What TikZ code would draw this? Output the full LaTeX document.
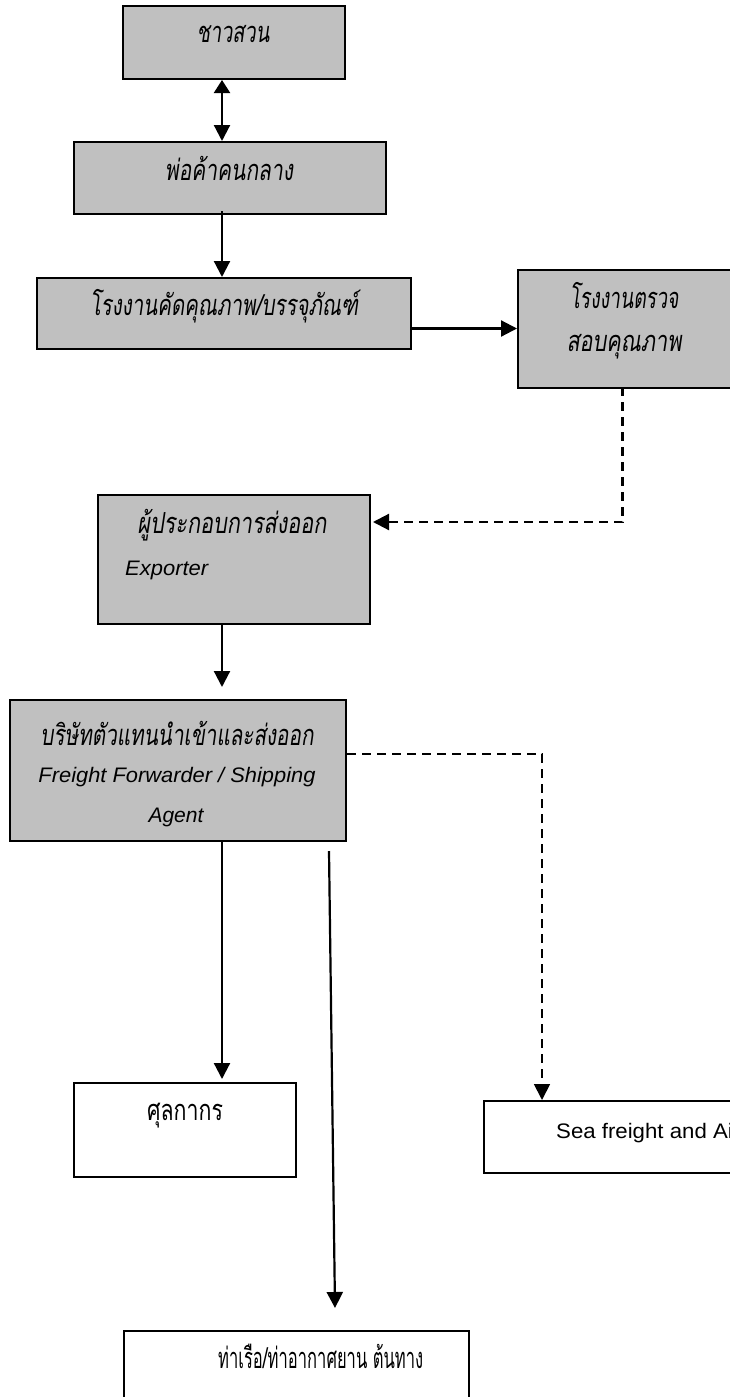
\documentclass[tikz,border=0pt]{standalone}
\usepackage{fontspec}
\usepackage{graphicx}
\usetikzlibrary{arrows.meta,calc}
\setmainfont{Liberation Sans}
\newfontfamily\thaifont[Script=Thai]{Loma}
\newfontfamily\thaiit[Script=Thai,FakeSlant=0.2]{Loma}
\definecolor{boxgray}{HTML}{C0C0C0}
% squeeze a label to a given width, keeping its height
\newcommand\fitw[2]{\resizebox{#1}{\height}{#2}}

\begin{document}
\begin{tikzpicture}[x=1pt,y=-1pt,
  box/.style={draw=black,line width=2pt,inner sep=0pt,anchor=north west},
  gbox/.style={box,fill=boxgray},
  wbox/.style={box,fill=white},
  thit/.style={font=\thaiit\fontsize{29}{33}\selectfont,inner sep=0pt,anchor=base},
  thup/.style={font=\thaifont\fontsize{29}{33}\selectfont,inner sep=0pt,anchor=base},
  latit/.style={font=\itshape\fontsize{21}{25}\selectfont,inner sep=0pt,anchor=base},
  latup/.style={font=\fontsize{21}{25}\selectfont,inner sep=0pt,anchor=base west},
  tip/.style={},
  arr/.style={line width=2.2pt,-{Triangle[length=16pt,width=16pt]}},
  darr/.style={line width=2.2pt,{Triangle[length=13pt,width=16pt]}-{Triangle[length=16pt,width=16pt]}},
  dsh/.style={arr,dash pattern=on 9pt off 6pt}]
\useasboundingbox (0,0) rectangle (730,1397);
\clip (0,0) rectangle (730,1397);

% x positions of the vertical flows
\coordinate (spine) at (222,0);
\coordinate (drop) at (542,0);

% boxes
\node[gbox,minimum width=222pt,minimum height=73pt] (farmer) at (122,5) {};
\node[gbox,minimum width=312pt,minimum height=72pt] (middleman) at (73,141) {};
\node[gbox,minimum width=374pt,minimum height=71pt] (factory) at (36,277) {};
\node[gbox,minimum width=215pt,minimum height=118pt] (inspect) at (517,269) {};
\node[gbox,minimum width=272pt,minimum height=129pt] (exporter) at (97,494) {};
\node[gbox,minimum width=336pt,minimum height=141pt] (forwarder) at (9,699) {};
\node[wbox,minimum width=222pt,minimum height=94pt] (customs) at (73,1082) {};
\node[wbox,minimum width=280pt,minimum height=72pt] (seafreight) at (483,1100) {};
\node[wbox,minimum width=345pt,minimum height=100pt] (port) at (123,1330) {};

% labels
\node[thit] (tfarmer) at (233,43) {\fitw{73pt}{ชาวสวน}};
\node[thit] (tmiddle) at (229,180) {\fitw{128pt}{พ่อค้าคนกลาง}};
\node[thit] (tfactory) at (224,315) {\fitw{268pt}{โรงงานคัดคุณภาพ/บรรจุภัณฑ์}};
\node[thit] (tinspectA) at (624,308) {\fitw{109pt}{โรงงานตรวจ}};
\node[thit] (tinspectB) at (624,351) {\fitw{115pt}{สอบคุณภาพ}};
\node[thit] (texpth) at (232,533) {\fitw{189pt}{ผู้ประกอบการส่งออก}};
\node[latit,anchor=base west] (texpen) at (125,575) {\fitw{83pt}{Exporter}};
\node[thit] (tfwdth) at (177,745) {\fitw{273pt}{บริษัทตัวแทนนำเข้าและส่งออก}};
\node[latit] (tfwdenA) at (177,782) {\fitw{277pt}{Freight Forwarder / Shipping}};
\node[latit] (tfwdenB) at (176,822) {\fitw{55pt}{Agent}};
\node[thup] (tcustoms) at (185,1120) {\fitw{76pt}{ศุลกากร}};
\node[latup] (tsea) at (556,1138) {\fitw{184pt}{Sea freight and Air}};
\node[thup,anchor=base west] (tport) at (218,1368) {\fitw{205pt}{ท่าเรือ/ท่าอากาศยาน ต้นทาง}};

% connectors
\draw[darr] (farmer.south -| spine) -- (middleman.north -| spine);
\draw[arr] ($(middleman.south -| spine)+(0,-4)$) -- (factory.north -| spine);
\draw[arr] ($(factory.east)+(-2,15)$) coordinate (h1) -- (h1 -| inspect.west);
\draw[dsh] ($(inspect.south)+(-3,-2)$) |- ($(exporter.east)+(2,-37.5)$);
\draw[arr,shorten >=12pt] (exporter.south -| spine) -- (forwarder.north -| spine);
\draw[dsh,line width=1.8pt] ($(forwarder.east)+(0,-16.5)$) -| (seafreight.north -| drop);
\draw[arr] (forwarder.south -| spine) -- ($(customs.north -| spine)+(0,-3)$);
\draw[arr] ($(forwarder.south west)+(320,9)$) -- ($(port.north west)+(212,-22)$);
\end{tikzpicture}
\end{document}
